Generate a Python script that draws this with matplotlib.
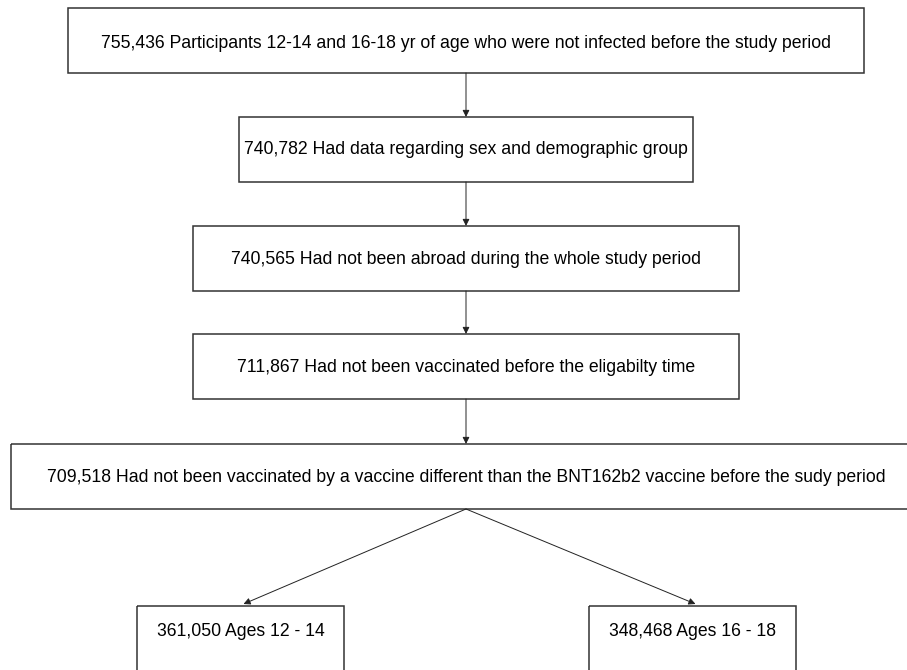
import matplotlib.pyplot as plt
from matplotlib.patches import Rectangle

# Flowchart values
counts = [755436, 740782, 740565, 711867, 709518, 361050, 348468]
descriptions = [
    "Participants 12-14 and 16-18 yr of age who were not infected before the study period",
    "Had data regarding sex and demographic group",
    "Had not been abroad during the whole study period",
    "Had not been vaccinated before the eligabilty time",
    "Had not been vaccinated by a vaccine different than the BNT162b2 vaccine before the sudy period",
    "Ages 12 - 14",
    "Ages 16 - 18",
]

# Box layout in pixels: (left, top, right, bottom), text y
boxes = [
    (68, 8, 864, 73),
    (239, 117, 693, 182),
    (193, 226, 739, 291),
    (193, 334, 739, 399),
    (11, 444, 921, 509),
    (137, 606, 344, 690),
    (589, 606, 796, 690),
]
text_y = [43, 150, 259, 368, 478, 631, 631]

fig = plt.figure(figsize=(9.07, 6.70), dpi=100)
ax = fig.add_axes([0, 0, 1, 1])
ax.set_xlim(0, 907)
ax.set_ylim(670, 0)
ax.axis('off')

for (l, t, r, b), ty, n, d in zip(boxes, text_y, counts, descriptions):
    ax.add_patch(Rectangle((l, t), r - l, b - t, fill=False,
                           edgecolor='#333333', linewidth=1.1, clip_on=True))
    ax.text((l + r) / 2, ty, f"{n:,} {d}", ha='center', va='center',
            fontsize=12.7, family='Liberation Sans', color='black')

# Arrows
arrow_kw = dict(arrowstyle='-|>', color='#222222', lw=0.7,
                mutation_scale=10, shrinkA=0, shrinkB=0)
cx = 466
for i in range(4):
    ax.annotate('', xy=(cx, boxes[i + 1][1]), xytext=(cx, boxes[i][3]),
                arrowprops=arrow_kw)
for j in (5, 6):
    l, t, r, b = boxes[j]
    ax.annotate('', xy=((l + r) / 2 + 3, t - 2), xytext=(cx, boxes[4][3]),
                arrowprops=arrow_kw)

fig.savefig('out.png', dpi=100)
